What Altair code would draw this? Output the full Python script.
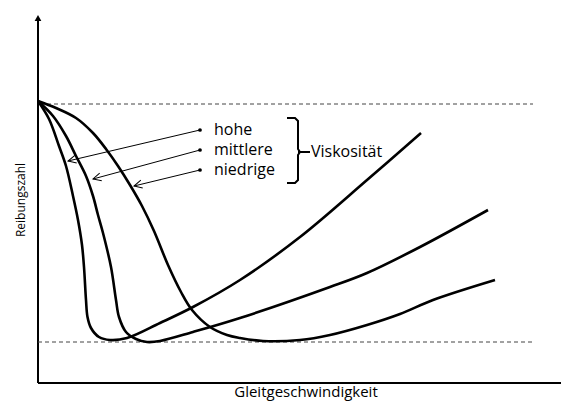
import math
import altair as alt
import pandas as pd

# Coordinates: x = sliding speed (arbitrary units), y = friction coefficient (arbitrary units)
hohe_x = [0, 11, 21, 28, 35, 40, 44, 46, 48, 49.5, 53, 61, 72, 89, 122, 155, 202, 262, 329, 383]
hohe_y = [282, 264, 237, 217, 187, 163, 138, 116, 83, 66, 55, 46, 43, 45, 60, 76, 103, 146, 203, 250]

mittlere_x = [0, 15, 28, 38, 48, 55, 60, 65, 73, 78, 81, 88, 98, 109, 122, 155, 202, 292, 329, 382, 450]
mittlere_y = [282, 267, 247, 227, 207, 187, 168, 150, 116, 83, 66, 51, 44, 41, 42, 51, 65, 96, 110, 136, 173]

niedrige_x = [0, 18, 38, 55, 68, 80, 92, 104, 116, 130, 143, 154, 172, 189, 202, 225, 262, 292, 329, 362, 395, 457]
niedrige_y = [282, 275, 265, 250, 234, 217, 198, 177, 152, 118, 91, 73, 56, 48, 45, 42, 43, 48, 58, 69, 83, 103]

ref_levels = [279, 41]          # dashed reference lines (upper, lower)
ref_x = [[2, 495], [0, 495]]

labels = ["hohe", "mittlere", "niedrige"]
label_dot_x = [162, 162, 162]
label_dot_y = [253, 233, 213]
arrow_tip_x = [30, 55, 96]
arrow_tip_y = [222, 204, 197]
label_text_x = 176

bracket_x = [249, 257, 260, 260, 262, 260, 260, 257, 249]
bracket_y = [265, 265, 262, 234, 231, 228, 203, 200, 200]
bracket_tick_x = [260, 272]
bracket_tick_y = [231, 231]
group_label = "Viskosität"
group_label_pos = (273, 231)

x_title = "Gleitgeschwindigkeit"
y_title = "Reibungszahl"
x_axis_end = 523
y_axis_end = 369

FONT = "Open Sans"
xs = alt.Scale(domain=[-30, 523], nice=False, zero=False)
ys = alt.Scale(domain=[-19, 375], nice=False, zero=False)


def X(f="x"):
    return alt.X(f"{f}:Q", scale=xs, axis=None)


def Y(f="y"):
    return alt.Y(f"{f}:Q", scale=ys, axis=None)


def path_layer(xv, yv, width=2.5, dash=None, color="black"):
    df = pd.DataFrame({"x": xv, "y": yv, "i": list(range(len(xv)))})
    kw = dict(color=color, strokeWidth=width, interpolate="linear")
    if dash:
        kw["strokeDash"] = dash
    return alt.Chart(df).mark_line(**kw).encode(x=X(), y=Y(), order=alt.Order("i:Q"))


def curve_layer(xv, yv):
    df = pd.DataFrame({"x": xv, "y": yv, "i": list(range(len(xv)))})
    return alt.Chart(df).mark_line(color="black", strokeWidth=2.6, interpolate="catmull-rom").encode(
        x=X(), y=Y(), order=alt.Order("i:Q"))


layers = []
# axes
layers.append(path_layer([0, 0], [0, y_axis_end - 6], width=2))
layers.append(path_layer([0, x_axis_end], [0, 0], width=2))
layers.append(alt.Chart(pd.DataFrame({"x": [0], "y": [y_axis_end - 4]})).mark_point(
    shape="triangle-up", filled=True, color="black", size=45, opacity=1).encode(x=X(), y=Y()))

# dashed reference lines
for lvl, rx in zip(ref_levels, ref_x):
    layers.append(path_layer(rx, [lvl, lvl], width=1, dash=[4, 3], color="#444444"))

# curves
layers.append(curve_layer(hohe_x, hohe_y))
layers.append(curve_layer(mittlere_x, mittlere_y))
layers.append(curve_layer(niedrige_x, niedrige_y))

# arrows
for dx, dy, tx, ty in zip(label_dot_x, label_dot_y, arrow_tip_x, arrow_tip_y):
    layers.append(path_layer([dx, tx], [dy, ty], width=1))
ang = [math.degrees(math.atan2(-(ty - dy), tx - dx)) % 360
       for dx, dy, tx, ty in zip(label_dot_x, label_dot_y, arrow_tip_x, arrow_tip_y)]
heads = pd.DataFrame({"x": arrow_tip_x, "y": arrow_tip_y, "a": ang})
layers.append(alt.Chart(heads).mark_point(
    shape="M-2,-1L0,0L-2,1", filled=False, color="black", strokeWidth=1, size=64, opacity=1
).encode(x=X(), y=Y(), angle=alt.Angle("a:Q", scale=None)))
dots = pd.DataFrame({"x": label_dot_x, "y": label_dot_y})
layers.append(alt.Chart(dots).mark_circle(color="black", size=14, opacity=1).encode(x=X(), y=Y()))

# labels
lab = pd.DataFrame({"x": [label_text_x] * 3, "y": label_dot_y, "t": labels})
layers.append(alt.Chart(lab).mark_text(align="left", baseline="middle", font=FONT, fontSize=16,
                                       color="black").encode(x=X(), y=Y(), text="t:N"))

# bracket
layers.append(path_layer(bracket_x, bracket_y, width=2))
layers.append(path_layer(bracket_tick_x, bracket_tick_y, width=2))
layers.append(alt.Chart(pd.DataFrame({"x": [group_label_pos[0]], "y": [group_label_pos[1]], "t": [group_label]}))
              .mark_text(align="left", baseline="middle", font=FONT, fontSize=16, color="black")
              .encode(x=X(), y=Y(), text="t:N"))

# axis titles
layers.append(alt.Chart(pd.DataFrame({"x": [268], "y": [-14], "t": [x_title]}))
              .mark_text(align="center", baseline="alphabetic", font=FONT, fontSize=15, color="black")
              .encode(x=X(), y=Y(), text="t:N"))
layers.append(alt.Chart(pd.DataFrame({"x": [-17], "y": [183], "t": [y_title]}))
              .mark_text(align="center", baseline="middle", font=FONT, fontSize=12, angle=270, color="black")
              .encode(x=X(), y=Y(), text="t:N"))

chart = alt.layer(*layers).properties(
    width=553, height=394, padding=0, autosize=alt.AutoSizeParams(type="none"),
    background="white"
).configure_view(stroke=None)

chart.save("out.html", embed_options={"renderer": "svg", "actions": False})
